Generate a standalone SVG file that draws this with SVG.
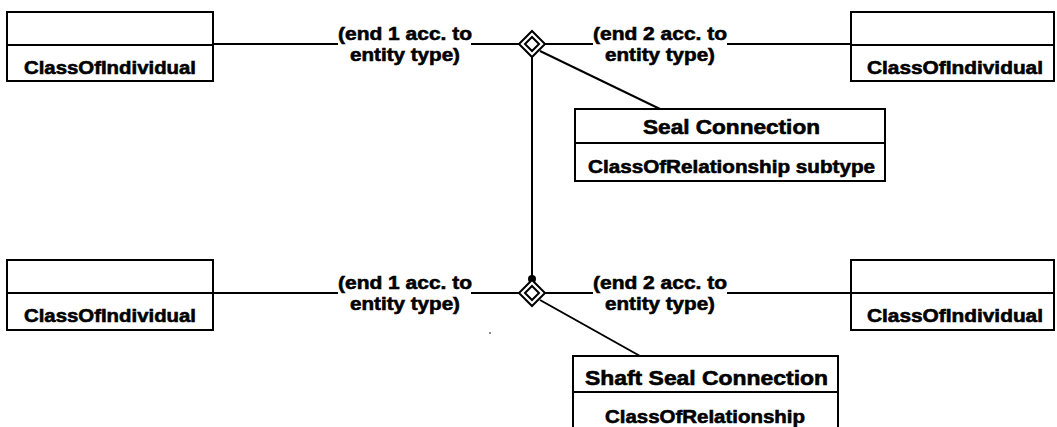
<svg xmlns="http://www.w3.org/2000/svg" width="1057" height="427" viewBox="0 0 1057 427">
<style>
.box{fill:#fff;stroke:#000;stroke-width:2}
.div{stroke:#000;stroke-width:2}
.t{font-family:"Liberation Sans",Arial,sans-serif;font-weight:bold;font-size:19px;fill:#000;stroke:#000;stroke-width:0.6}
.h{font-size:20.5px}
.c{stroke:#000;stroke-width:2;fill:none}
.dia{fill:#fff;stroke:#000;stroke-width:2}
</style>
<rect width="1057" height="427" fill="#fff"/>
<g id="connectors">
<line class="c" x1="213" y1="44" x2="338" y2="44"/>
<line class="c" x1="471" y1="44" x2="521" y2="44"/>
<line class="c" x1="543" y1="44" x2="593" y2="44"/>
<line class="c" x1="727" y1="44" x2="851" y2="44"/>
<line class="c" x1="540" y1="51" x2="660" y2="109"/>
<line class="c" x1="532" y1="57" x2="532" y2="281"/>
<line class="c" x1="213" y1="293" x2="338" y2="293"/>
<line class="c" x1="471" y1="293" x2="521" y2="293"/>
<line class="c" x1="543" y1="293" x2="593" y2="293"/>
<line class="c" x1="727" y1="293" x2="851" y2="293"/>
<line class="c" x1="540" y1="300" x2="640" y2="356"/>
<circle cx="532" cy="279" r="4" fill="#000"/>
<circle cx="490" cy="333" r="0.8" fill="#000"/>
<text class="t" x="338" y="40" textLength="134" lengthAdjust="spacingAndGlyphs">(end 1 acc. to</text>
<text class="t" x="350" y="61" textLength="110" lengthAdjust="spacingAndGlyphs">entity type)</text>
<text class="t" x="593" y="40" textLength="134" lengthAdjust="spacingAndGlyphs">(end 2 acc. to</text>
<text class="t" x="605" y="61" textLength="110" lengthAdjust="spacingAndGlyphs">entity type)</text>
<text class="t" x="338" y="289" textLength="134" lengthAdjust="spacingAndGlyphs">(end 1 acc. to</text>
<text class="t" x="350" y="310" textLength="110" lengthAdjust="spacingAndGlyphs">entity type)</text>
<text class="t" x="593" y="289" textLength="134" lengthAdjust="spacingAndGlyphs">(end 2 acc. to</text>
<text class="t" x="605" y="310" textLength="110" lengthAdjust="spacingAndGlyphs">entity type)</text>
</g>
<g id="diamond-top">
<polygon class="dia" points="532,31 545,44 532,57 519,44"/>
<polygon class="c" points="532,37 539,44 532,51 525,44"/>
</g>
<g id="diamond-bottom">
<polygon class="dia" points="532,280 545,293 532,306 519,293"/>
<polygon class="c" points="532,286 539,293 532,300 525,293"/>
</g>
<g id="class-tl">
<rect class="box" x="7" y="12" width="206" height="69"/>
<line class="div" x1="7" y1="45" x2="213" y2="45"/>
<text class="t" x="24" y="74" textLength="172" lengthAdjust="spacingAndGlyphs">ClassOfIndividual</text>
</g>
<g id="class-tr">
<rect class="box" x="851" y="12" width="203" height="69"/>
<line class="div" x1="851" y1="45" x2="1054" y2="45"/>
<text class="t" x="867" y="74" textLength="176" lengthAdjust="spacingAndGlyphs">ClassOfIndividual</text>
</g>
<g id="class-bl">
<rect class="box" x="7" y="260" width="206" height="70"/>
<line class="div" x1="7" y1="293" x2="213" y2="293"/>
<text class="t" x="24" y="322" textLength="172" lengthAdjust="spacingAndGlyphs">ClassOfIndividual</text>
</g>
<g id="class-br">
<rect class="box" x="851" y="260" width="203" height="70"/>
<line class="div" x1="851" y1="293" x2="1054" y2="293"/>
<text class="t" x="867" y="322" textLength="176" lengthAdjust="spacingAndGlyphs">ClassOfIndividual</text>
</g>
<g id="seal-connection">
<rect class="box" x="575" y="109" width="310" height="72"/>
<line class="div" x1="575" y1="143" x2="885" y2="143"/>
<text class="t h" x="643" y="134" textLength="177" lengthAdjust="spacingAndGlyphs">Seal Connection</text>
<text class="t" x="588" y="173" textLength="287" lengthAdjust="spacingAndGlyphs">ClassOfRelationship subtype</text>
</g>
<g id="shaft-seal-connection">
<rect class="box" x="573" y="356" width="265" height="80"/>
<line class="div" x1="573" y1="392" x2="838" y2="392"/>
<text class="t h" x="585" y="385" textLength="243" lengthAdjust="spacingAndGlyphs">Shaft Seal Connection</text>
<text class="t" x="605" y="423" textLength="200" lengthAdjust="spacingAndGlyphs">ClassOfRelationship</text>
</g>
</svg>
